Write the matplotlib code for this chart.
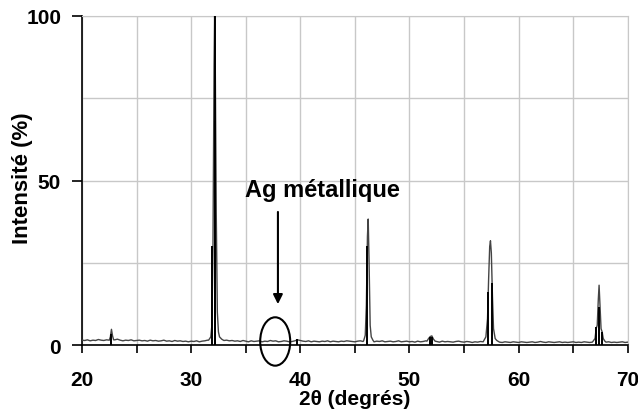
import numpy as np
import matplotlib
matplotlib.use('Agg')
import matplotlib.pyplot as plt
from matplotlib.patches import Ellipse

plt.rcParams['font.family'] = ['Liberation Sans', 'DejaVu Sans']
plt.rcParams['font.weight'] = 'bold'

# Ligne de base du diffractogramme (pas de 0.25 deg, de 20 a 70)
base_y = [
    1.5, 1.4, 1.6, 1.3, 1.5, 1.4, 1.7, 1.5, 1.4, 1.6, 1.5, 1.4, 1.6, 1.8, 1.5, 1.3, 1.5, 1.4, 1.6, 1.3,
    1.4, 1.5, 1.3, 1.4, 1.2, 1.5, 1.3, 1.4, 1.2, 1.3, 1.5, 1.2, 1.3, 1.1, 1.4, 1.2, 1.3, 1.1, 1.2, 1.0,
    1.2, 1.1, 1.3, 1.0, 1.2, 1.3, 1.5, 1.8, 2.0, 2.2, 1.8, 1.6, 1.4, 1.5, 1.3, 1.4, 1.2, 1.3, 1.1, 1.4,
    1.2, 1.0, 1.3, 1.1, 1.2, 1.3, 1.0, 1.2, 1.1, 1.4, 1.2, 1.3, 1.0, 1.1, 1.3, 1.2, 1.0, 1.1, 1.3, 1.6,
    1.4, 1.2, 1.1, 1.3, 1.0, 1.2, 1.1, 1.0, 1.2, 1.1, 1.3, 1.0, 1.2, 1.1, 1.0, 1.2, 1.1, 1.3, 1.2, 1.1,
    1.0, 1.2, 1.3, 1.1, 1.0, 1.2, 1.1, 1.0, 1.2, 1.1, 1.3, 1.0, 1.1, 1.2, 1.0, 1.1, 1.3, 1.0, 1.1, 1.2,
    1.0, 1.1, 0.9, 1.2, 1.0, 1.1, 1.3, 1.0, 1.2, 1.0, 1.1, 0.9, 1.2, 1.0, 1.1, 1.0, 0.9, 1.1, 1.2, 1.0,
    0.9, 1.1, 1.0, 0.8, 1.0, 0.9, 1.1, 1.0, 0.9, 0.8, 1.0, 0.9, 1.1, 0.9, 0.8, 1.0, 0.9, 0.8, 1.0, 0.9,
    0.8, 1.0, 0.9, 0.8, 0.9, 1.0, 0.8, 0.9, 1.1, 0.9, 0.8, 1.0, 0.9, 0.8, 0.9, 1.0, 0.8, 0.9, 0.8, 0.9,
    1.0, 0.8, 0.9, 0.8, 1.0, 0.9, 0.8, 0.9, 1.0, 0.8, 0.9, 0.8, 0.9, 1.0, 0.8, 0.9, 0.8, 0.9, 1.0, 0.8,
    0.9,
]

# Profils des pics mesures
pic_x = [22.5, 22.6, 22.7, 22.8, 22.9,
         31.6, 31.8, 31.9, 32.0, 32.1, 32.15, 32.2, 32.3, 32.4, 32.5, 32.6, 32.8,
         45.8, 45.95, 46.05, 46.15, 46.22, 46.3, 46.4, 46.5, 46.65,
         51.6, 51.75, 51.9, 52.05, 52.2, 52.35,
         56.8, 57.0, 57.15, 57.25, 57.35, 57.42, 57.5, 57.6, 57.7, 57.85, 58.0,
         66.8, 67.0, 67.1, 67.2, 67.3, 67.37, 67.45, 67.55, 67.65, 67.75, 67.9]
pic_y = [1.5, 2.5, 4.8, 2.8, 1.6,
         1.5, 2.5, 6.0, 30.0, 85.0, 100.0, 90.0, 40.0, 10.0, 4.0, 2.5, 1.8,
         1.3, 3.0, 12.0, 33.0, 38.3, 25.0, 6.0, 2.5, 1.5,
         1.2, 2.0, 2.6, 2.8, 1.8, 1.2,
         1.3, 2.5, 8.0, 20.0, 30.0, 31.7, 28.0, 15.0, 5.0, 2.0, 1.4,
         1.1, 2.0, 5.0, 6.0, 14.0, 18.2, 12.0, 5.0, 4.0, 2.0, 1.2]
pic_zones = [(22.5, 22.9), (31.6, 32.8), (45.8, 46.65), (51.6, 52.35), (56.8, 58.0), (66.8, 67.9)]

# Raies de reference (batons)
raie_x = [22.65, 31.95, 32.15, 32.22, 39.7, 46.12, 51.85, 52.05, 57.2, 57.55, 67.1, 67.32, 67.6]
raie_y = [3.3, 30.0, 100.0, 68.0, 2.0, 30.0, 2.4, 2.4, 16.2, 18.8, 5.5, 11.5, 4.0]

# Assemblage de la courbe
base_x = np.arange(len(base_y)) * 0.25 + 20
garde = np.ones(len(base_x), dtype=bool)
for a, b in pic_zones:
    garde &= ~((base_x >= a) & (base_x <= b))
x = np.concatenate([base_x[garde], pic_x])
y = np.concatenate([np.array(base_y)[garde], pic_y])
ordre = np.argsort(x)
x, y = x[ordre], y[ordre]

fig = plt.figure(figsize=(6.38, 4.14), dpi=100)
ax = fig.add_axes([0.1285, 0.164, 0.8555, 0.795])

ax.plot(x, y, color='#444444', lw=1.0, zorder=3)
ax.vlines(raie_x, 0, raie_y, color='black', lw=1.4, zorder=4)

ax.set_xlim(20, 70)
ax.set_ylim(0, 100)
ax.set_xticks([20, 30, 40, 50, 60, 70])
ax.set_xticks([25, 35, 45, 55, 65], minor=True)
ax.set_yticks([0, 50, 100])
ax.set_yticks([25, 75], minor=True)
ax.grid(True, which='both', color='#c8c8c8', lw=1.0, zorder=0)
ax.tick_params(axis='x', which='both', direction='out', length=6, width=1.2, pad=12, labelsize=15)
ax.tick_params(axis='y', which='major', direction='out', length=7, width=1.2, pad=8, labelsize=15)
ax.tick_params(axis='y', which='minor', length=0)
ax.spines['top'].set_color('#c8c8c8')
ax.spines['right'].set_color('#c8c8c8')
ax.spines['left'].set_linewidth(1.2)
ax.spines['bottom'].set_linewidth(1.2)

ax.set_xlabel('2θ (degrés)', fontsize=15, fontweight='bold', labelpad=0)
ax.set_ylabel('Intensité (%)', fontsize=16, fontweight='bold')
ax.yaxis.set_label_coords(-0.09, 0.51)

# Annotation argent metallique
ax.text(42.0, 47.4, 'Ag métallique', fontsize=17, fontweight='bold', ha='center', va='center')
ax.annotate('', xy=(37.95, 11.6), xytext=(37.95, 41.3),
            arrowprops=dict(arrowstyle='-|>', color='black', lw=1.5, mutation_scale=14))
ax.add_patch(Ellipse((37.7, 1.1), 2.75, 14.7, fill=False, edgecolor='black', lw=1.5, zorder=5, clip_on=False))

fig.savefig('out.png', dpi=100)
